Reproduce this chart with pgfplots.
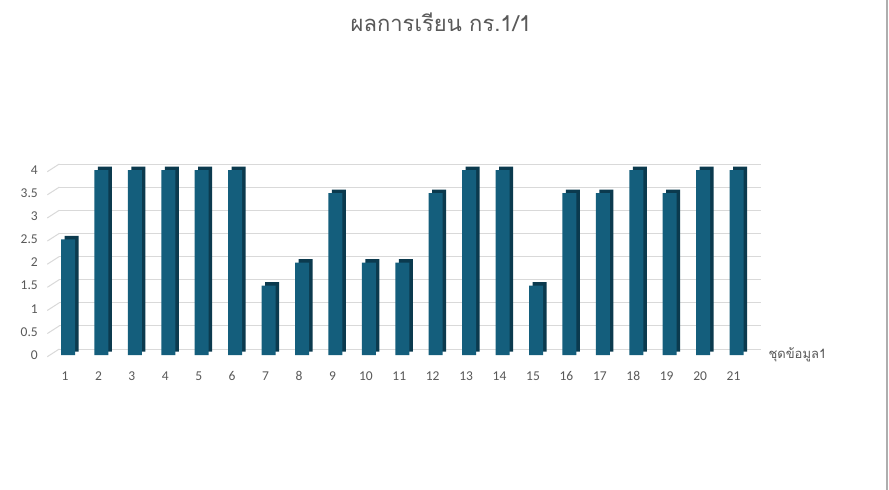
\documentclass[border=0pt]{standalone}
\usepackage{pgfplots}
\pgfplotsset{compat=1.18}
\usepackage{fontspec}
\setmainfont{Carlito}
\newfontfamily\thaifont[Script=Thai]{Loma}
\definecolor{barfront}{RGB}{20,94,124}
\definecolor{barside}{RGB}{11,58,78}
\definecolor{txt}{RGB}{89,89,89}
\definecolor{gridc}{RGB}{217,217,217}
\begin{document}
\begin{tikzpicture}
\useasboundingbox (-51.3pt,-135pt) rectangle (837.7pt,355pt);
\fill[white] (-51.3pt,-135pt) rectangle (837.7pt,355pt);
\draw[gridc!80!black, line width=1.5pt] (835.7pt,-135pt) -- (835.7pt,355pt);
\node[text=txt, font=\thaifont\fontsize{22}{26}\selectfont] at (389.7pt,333pt) {ผลการเรียน กร.1/1};
\begin{axis}[
  scale only axis, width=702pt, height=185pt,
  xmin=0.5, xmax=21.5, ymin=0, ymax=4,
  xtick={1,...,21}, ytick={0,0.5,...,4},
  ymajorgrids, xmajorgrids=false,
  major grid style={draw=gridc, line width=1pt, xshift=8pt, yshift=6pt},
  tick style={draw=none},
  ticklabel style={text=txt, font=\fontsize{13.5}{15}\selectfont},
  yticklabel style={xshift=-10pt},
  xticklabel style={yshift=-13pt, xshift=-3pt},
  /pgf/number format/assume math mode=true,
  clip=false,
  axis line style={draw=none},
]
\pgfplotsinvokeforeach{0,0.5,1,1.5,2,2.5,3,3.5,4}{
  \draw[gridc, line width=1pt] ([xshift=-4pt,yshift=-1.7pt]axis cs:0.5,#1) -- ([xshift=8pt,yshift=6pt]axis cs:0.5,#1);
}
\addplot[ybar, bar width=14pt, fill=barside, draw=none, xshift=3.5pt, yshift=3.5pt] coordinates {
(1,2.5)(2,4)(3,4)(4,4)(5,4)(6,4)(7,1.5)(8,2)(9,3.5)(10,2)(11,2)(12,3.5)(13,4)(14,4)(15,1.5)(16,3.5)(17,3.5)(18,4)(19,3.5)(20,4)(21,4)};
\addplot[ybar, bar width=14pt, fill=barfront, draw=none] coordinates {
(1,2.5)(2,4)(3,4)(4,4)(5,4)(6,4)(7,1.5)(8,2)(9,3.5)(10,2)(11,2)(12,3.5)(13,4)(14,4)(15,1.5)(16,3.5)(17,3.5)(18,4)(19,3.5)(20,4)(21,4)};
\end{axis}
\node[anchor=west, text=txt, font=\thaifont\fontsize{13}{15}\selectfont] at (713.7pt,0pt) {ชุดข้อมูล1};
\end{tikzpicture}
\end{document}
